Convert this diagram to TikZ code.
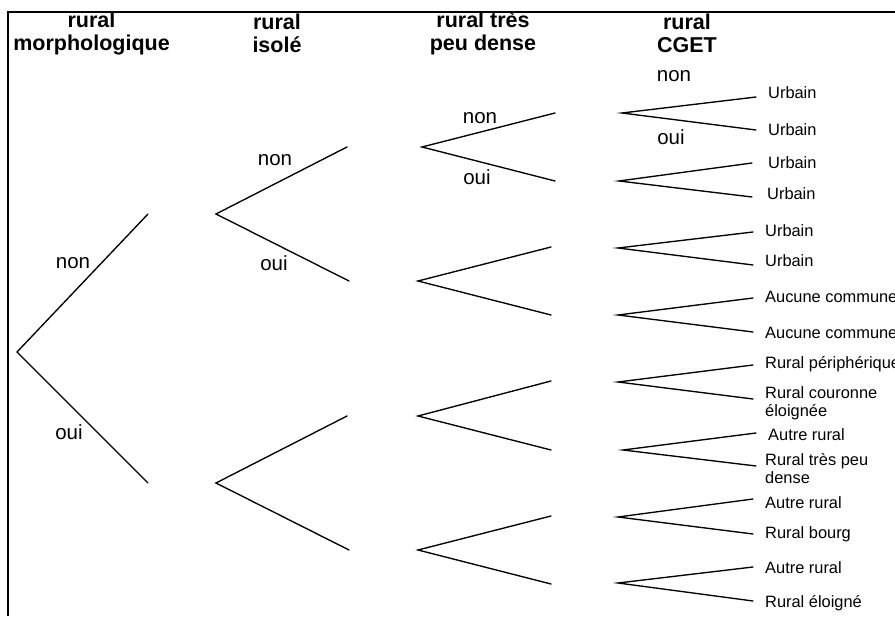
\documentclass[tikz,border=0pt]{standalone}
\usepackage{fontspec}
\setmainfont{Liberation Sans}
\begin{document}
\begin{tikzpicture}[x=1pt,y=-1pt,
  branch/.style={line width=1.35pt, line cap=round},
  frameline/.style={line width=1.9pt},
  header/.style={font=\fontsize{21.5}{23}\selectfont\bfseries, align=center, inner sep=0pt},
  answer/.style={font=\fontsize{20.5}{23}\selectfont, inner sep=0pt},
  leaf/.style={font=\fontsize{16.4}{18}\selectfont, anchor=west, align=left, inner sep=0pt}]
\useasboundingbox (0,0) rectangle (895,617);

% frame (left and top edges)
\draw[frameline] (8,616) -- (8,12) -- (895,12);

% column headers
\node[header] (h1) at (91.5,33.5) {rural\\morphologique};
\node[header] (h2) at (277,33.5) {rural\\isolé};
\node[header] (h3) at (483,33.5) {rural très\\peu dense};
\node[header] (h4) at (687,33.5) {rural\\CGET};

% level 1
\coordinate (r) at (17,352);
\coordinate (a1) at (148,214);
\coordinate (a2) at (148,483);
\draw[branch] (a1) -- (r) -- (a2);

% level 2
\coordinate (b1) at (216,214);
\coordinate (b2) at (216,483);
\coordinate (b11) at (347,147);
\coordinate (b12) at (349,281);
\coordinate (b21) at (347,416);
\coordinate (b22) at (349,550);
\draw[branch] (b11) -- (b1) -- (b12);
\draw[branch] (b21) -- (b2) -- (b22);

% level 3
\coordinate (c1) at (422,147);
\coordinate (c2) at (418,281);
\coordinate (c3) at (418,416);
\coordinate (c4) at (418,550);
\coordinate (c11) at (555,113);
\coordinate (c12) at (555,181);
\coordinate (c21) at (551,247);
\coordinate (c22) at (551,315);
\coordinate (c31) at (551,381);
\coordinate (c32) at (551,450);
\coordinate (c41) at (551,516);
\coordinate (c42) at (551,584);
\draw[branch] (c11) -- (c1) -- (c12);
\draw[branch] (c21) -- (c2) -- (c22);
\draw[branch] (c31) -- (c3) -- (c32);
\draw[branch] (c41) -- (c4) -- (c42);

% level 4
\coordinate (d1) at (622,113);
\coordinate (d2) at (619,181);
\coordinate (d3) at (618,248);
\coordinate (d4) at (618,315);
\coordinate (d5) at (618,382);
\coordinate (d6) at (623,450);
\coordinate (d7) at (618,517);
\coordinate (d8) at (618,583);
\coordinate (d11) at (756,97);
\coordinate (d12) at (756,130);
\coordinate (d21) at (752,163);
\coordinate (d22) at (752,197);
\coordinate (d31) at (753,232);
\coordinate (d32) at (753,265);
\coordinate (d41) at (753,298);
\coordinate (d42) at (753,332);
\coordinate (d51) at (753,365);
\coordinate (d52) at (753,399);
\coordinate (d61) at (756,433);
\coordinate (d62) at (756,466);
\coordinate (d71) at (753,499);
\coordinate (d72) at (753,534);
\coordinate (d81) at (753,567);
\coordinate (d82) at (753,601);
\foreach \k in {1,...,8}{
  \draw[branch] (d\k1) -- (d\k) -- (d\k2);
}

% branch answers
\node[answer] (n1) at (73,263) {non};
\node[answer] (o1) at (69,432) {oui};
\node[answer] (n2) at (275,160) {non};
\node[answer] (o2) at (274,263) {oui};
\node[answer] (n3) at (480,118) {non};
\node[answer] (o3) at (477,177) {oui};
\node[answer] (n4) at (674,76) {non};
\node[answer] (o4) at (671,137) {oui};

% outcomes
\node[leaf] (e1) at (768,93) {Urbain};
\node[leaf] (e2) at (768,130) {Urbain};
\node[leaf] (e3) at (768,163) {Urbain};
\node[leaf] (e4) at (767,194) {Urbain};
\node[leaf] (e5) at (765,231) {Urbain};
\node[leaf] (e6) at (765,261) {Urbain};
\node[leaf] (e7) at (765,297) {Aucune commune};
\node[leaf] (e8) at (765,333) {Aucune commune};
\node[leaf] (e9) at (765,364) {Rural périphérique};
\node[leaf] (e10) at (765,403) {Rural couronne\\éloignée};
\node[leaf] (e11) at (768,435) {Autre rural};
\node[leaf] (e12) at (765,469) {Rural très peu\\dense};
\node[leaf] (e13) at (765,503) {Autre rural};
\node[leaf] (e14) at (765,534) {Rural bourg};
\node[leaf] (e15) at (765,568) {Autre rural};
\node[leaf] (e16) at (765,603) {Rural éloigné};
\end{tikzpicture}
\end{document}
